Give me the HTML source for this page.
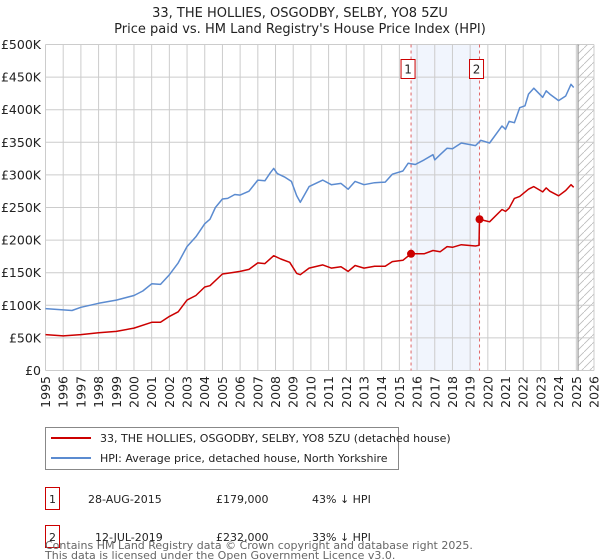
<!DOCTYPE html>
<html><head><meta charset="utf-8"><style>
body{margin:0;background:#fff;font-family:"Liberation Sans","DejaVu Sans",sans-serif;}
#wrap{position:relative;width:600px;height:560px;overflow:hidden;}
svg text{font-family:"DejaVu Sans","Liberation Sans",sans-serif;}
</style></head><body><div id="wrap">
<svg id="chart" width="600" height="560"></svg>
</div>
<script>
const hpiYears=[1995,1996,1996.5,1997,1998,1999,2000,2000.5,2001,2001.5,2002,2002.5,2003,2003.5,2004,2004.3,2004.6,2005,2005.3,2005.7,2006,2006.5,2007,2007.4,2007.7,2007.9,2008.1,2008.5,2008.9,2009.2,2009.4,2009.9,2010.67,2011.15,2011.7,2012.1,2012.5,2013,2013.6,2014.2,2014.6,2015.2,2015.5,2015.9,2016.4,2016.9,2017,2017.3,2017.7,2018,2018.5,2019.3,2019.6,2020.1,2020.8,2021,2021.2,2021.5,2021.8,2022.1,2022.3,2022.6,2023.1,2023.3,2023.5,2024,2024.4,2024.7,2024.85];
const hpiValues=[95,93,92,97,103,108,115,122,133,132,147,165,190,205,225,232,250,263,264,270,269,275,292,291,303,310,302,297,290,268,258,282,292,285,287,278,290,285,288,289,301,306,318,316,323,331,323,331,341,340,349,345,353,349,375,370,382,380,403,406,424,433,419,429,424,414,421,439,434];
const propYears=[1995,1996,1997,1998,1999,2000,2001,2001.5,2002,2002.5,2003,2003.5,2004,2004.3,2005,2005.5,2006,2006.5,2007,2007.4,2007.9,2008.3,2008.8,2009.2,2009.4,2009.9,2010.67,2011.15,2011.7,2012.1,2012.5,2013,2013.6,2014.2,2014.6,2015.2,2015.66,2016.4,2016.9,2017.3,2017.7,2018,2018.5,2019.3,2019.5,2019.53,2019.8,2020.1,2020.8,2021,2021.2,2021.5,2021.8,2022.3,2022.6,2023.1,2023.3,2023.5,2024,2024.4,2024.7,2024.85];
const propValues=[55,53,55,58,60,65,74,74,83,90,108,115,128,130,148,150,152,155,165,164,176,171,166,149,147,157,162,157,159,152,161,157,160,160,167,169,179,179,184,182,190,189,193,191,192,232,230,228,247,244,249,264,267,278,282,274,280,275,268,276,285,281];
const saleYears=[2015.66,2019.53];
const saleValues=[179,232];
const saleLabels=["1","2"];
const yTicks=[0,50,100,150,200,250,300,350,400,450,500];
const yTickLabels=["£0","£50K","£100K","£150K","£200K","£250K","£300K","£350K","£400K","£450K","£500K"];
const xTicks=[1995,1996,1997,1998,1999,2000,2001,2002,2003,2004,2005,2006,2007,2008,2009,2010,2011,2012,2013,2014,2015,2016,2017,2018,2019,2020,2021,2022,2023,2024,2025,2026];

const X0=45.5,X1=594,Y0=370.5,Y1=44.5;
const x=v=>X0+(v-1995)/(2026-1995)*(X1-X0);
const y=v=>Y0-v/500*(Y0-Y1);
const svg=document.getElementById('chart');
const NS='http://www.w3.org/2000/svg';
function mk(tag,attrs,parent){const e=document.createElementNS(NS,tag);for(const k in attrs)e.setAttribute(k,attrs[k]);(parent||svg).appendChild(e);return e;}

let band=mk('rect',{x:x(saleYears[0]),y:Y1,width:x(saleYears[1])-x(saleYears[0]),height:Y0-Y1,fill:'#eef3fc',opacity:0.8});


const defs=mk('defs',{});
const pat=mk('pattern',{id:'hatch',width:8,height:8,patternUnits:'userSpaceOnUse'},defs);
mk('path',{d:'M0,8 L8,0',stroke:'#bbb','stroke-width':0.8},pat);
let hatch=mk('rect',{x:x(2025.1),y:Y1,width:X1-x(2025.1),height:Y0-Y1,fill:'url(#hatch)'});



yTicks.forEach((t,i)=>{
  let l=mk('line',{x1:X0,x2:X1,y1:y(t),y2:y(t),stroke:'#cccccc','stroke-width':1});
  
  
  let tx=mk('text',{x:41,y:y(t)+4.5,'text-anchor':'end','font-size':12.5,fill:'#222'});
  tx.textContent=yTickLabels[i];
  
  
});
xTicks.forEach(t=>{
  let l=mk('line',{x1:x(t),x2:x(t),y1:Y1,y2:Y0,stroke:'#cccccc','stroke-width':1});
  
  
  let tx=mk('text',{x:0,y:0,'text-anchor':'end','font-size':12.5,fill:'#222',transform:`translate(${x(t)+4.5},376) rotate(-90)`});
  tx.textContent=t;
  
  
});
let vl=mk('line',{x1:x(2025.1),x2:x(2025.1),y1:Y1,y2:Y0,stroke:'#999','stroke-width':1.2});



saleYears.forEach((s,i)=>{
  let d=mk('line',{x1:x(s),x2:x(s),y1:Y1,y2:Y0,stroke:'#e06666','stroke-width':1,'stroke-dasharray':'3,3'});
  
  
  let b=mk('rect',{x:x(s)-10,y:59.5,width:14,height:19,fill:'#fff',stroke:'#cc0000','stroke-width':1});
  
  
  let t=mk('text',{x:x(s)-3,y:73.5,'text-anchor':'middle','font-size':12,fill:'#222'});
  t.textContent=saleLabels[i];
  
  
});

function line(xs,vs,color,name){
  const p=mk('polyline',{points:xs.map((v,i)=>x(v).toFixed(1)+','+y(vs[i]).toFixed(1)).join(' '),fill:'none',stroke:color,'stroke-width':1.5,'stroke-linejoin':'round'});
  
  
}
line(hpiYears,hpiValues,'#5b8bd0','hpi-line');
line(propYears,propValues,'#cc0000','property-price-line');
saleYears.forEach((s,i)=>{
  let c=mk('circle',{cx:x(s),cy:y(saleValues[i]),r:4,fill:'#cc0000'});
  
  
});

[["33, THE HOLLIES, OSGODBY, SELBY, YO8 5ZU",17],["Price paid vs. HM Land Registry's House Price Index (HPI)",33]].forEach((a,i)=>{
  let t=mk('text',{x:300,y:a[1],'text-anchor':'middle','font-size':13,fill:'#222'});
  t.textContent=a[0];
  
  
});

let lg=mk('rect',{x:45.5,y:427.5,width:353,height:42,fill:'#fff',stroke:'#888','stroke-width':1});


[["#cc0000","33, THE HOLLIES, OSGODBY, SELBY, YO8 5ZU (detached house)",438],["#5b8bd0","HPI: Average price, detached house, North Yorkshire",458]].forEach((a,i)=>{
  let l=mk('line',{x1:51,x2:91,y1:a[2],y2:a[2],stroke:a[0],'stroke-width':2});
  
  
  let t=mk('text',{x:100,y:a[2]+4,'font-size':11,fill:'#222'});
  t.textContent=a[1];
  
  
});

[["1","28-AUG-2015","£179,000","43% ↓ HPI",499,88],["2","12-JUL-2019","£232,000","33% ↓ HPI",537,95]].forEach(r=>{
  let b=mk('rect',{x:45.5,y:r[4]-11.5,width:14,height:22,fill:'#fff',stroke:'#cc0000','stroke-width':1});
  
  
  let t0=mk('text',{x:52.5,y:r[4]+4,'text-anchor':'middle','font-size':11,fill:'#222'});t0.textContent=r[0];
  
  
  let t1=mk('text',{x:r[5],y:r[4]+4,'font-size':11,fill:'#222'});t1.textContent=r[1];
  
  
  let t2=mk('text',{x:216,y:r[4]+4,'font-size':11,fill:'#222'});t2.textContent=r[2];
  
  
  let t3=mk('text',{x:312,y:r[4]+4,'font-size':11,fill:'#222'});t3.textContent=r[3];
  
  
});
[["Contains HM Land Registry data © Crown copyright and database right 2025.",545],["This data is licensed under the Open Government Licence v3.0.",555]].forEach(a=>{
  let t=mk('text',{x:45,y:a[1]+4,'font-size':11,fill:'#666'});t.textContent=a[0];
  
  
});
</script></body></html>
